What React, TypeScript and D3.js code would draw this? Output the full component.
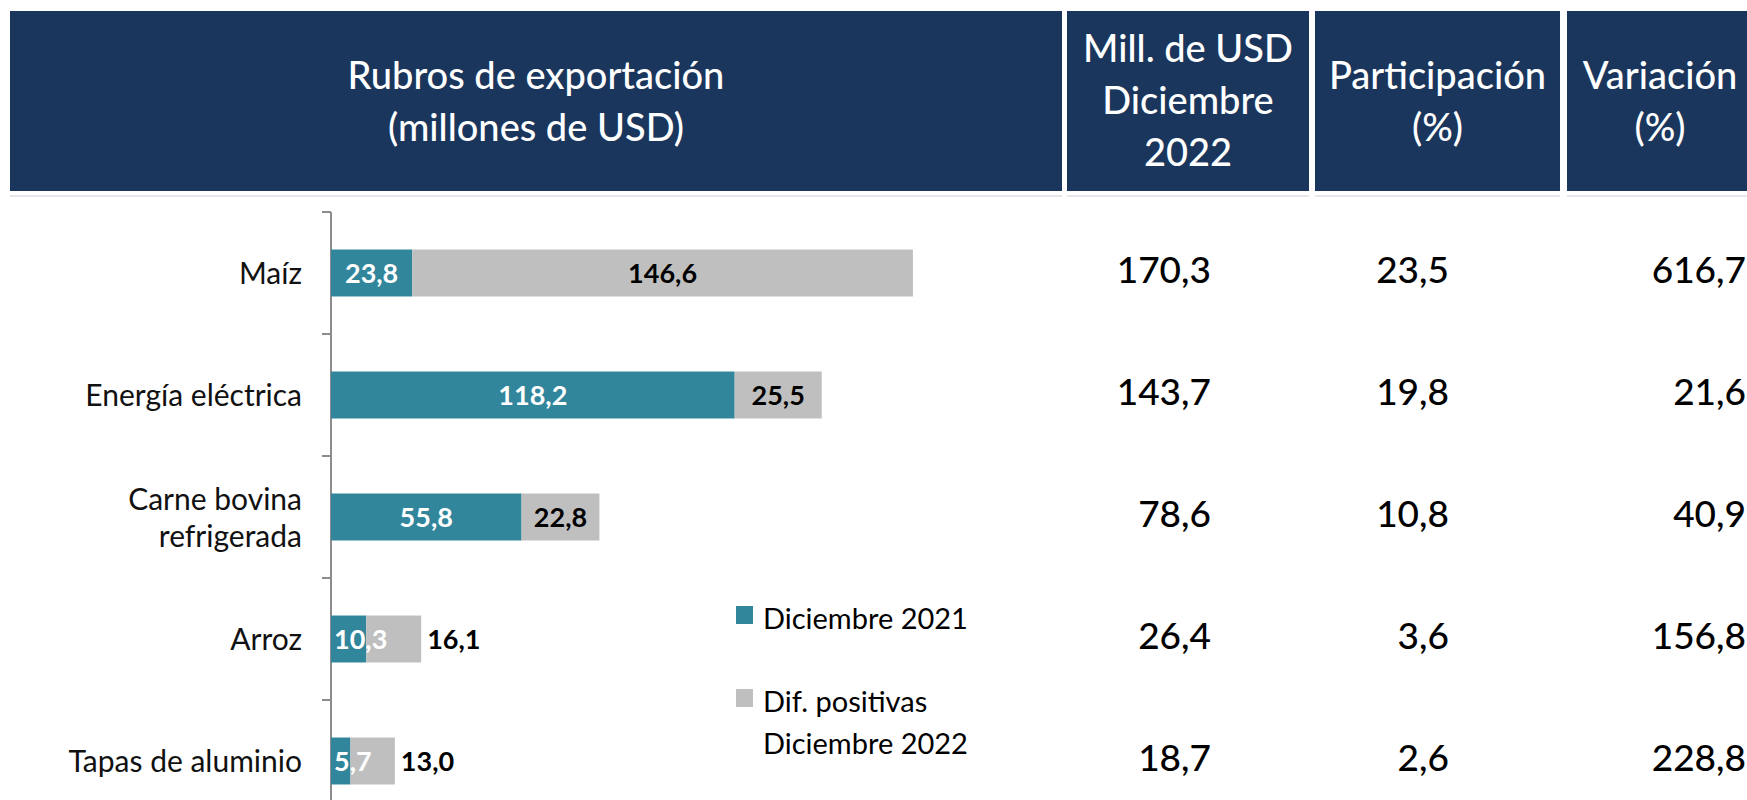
import React, { useEffect, useRef } from 'react';
import * as d3 from 'd3';

// rubros de exportación, diciembre 2022 vs diciembre 2021
const categories = ['Maíz', 'Energía eléctrica', 'Carne bovina refrigerada', 'Arroz', 'Tapas de aluminio'];
const categoryLines = [['Maíz'], ['Energía eléctrica'], ['Carne bovina', 'refrigerada'], ['Arroz'], ['Tapas de aluminio']];
const dic2021 = [23.8, 118.2, 55.8, 10.3, 5.7];
const difPositivas = [146.6, 25.5, 22.8, 16.1, 13.0];
const millUsd2022 = [170.3, 143.7, 78.6, 26.4, 18.7];
const participacion = [23.5, 19.8, 10.8, 3.6, 2.6];
const variacion = [616.7, 21.6, 40.9, 156.8, 228.8];

const headers = [
    { lines: ['Rubros de exportación', '(millones de USD)'], x0: 10, x1: 1062 },
    { lines: ['Mill. de USD', 'Diciembre', '2022'], x0: 1067, x1: 1309 },
    { lines: ['Participación', '(%)'], x0: 1315, x1: 1560 },
    { lines: ['Variación', '(%)'], x0: 1567, x1: 1752, cx: 1660 },
];

const legendItems = [
    { lines: ['Diciembre 2021'], color: '#31869b' },
    { lines: ['Dif. positivas', 'Diciembre 2022'], color: '#bfbfbf' },
];

const NAVY = '#1a365d';
const TEAL = '#31869b';
const GRAY = '#bfbfbf';
const FONT = 'Lato, "Open Sans", sans-serif';

const fmt = (v: number) => d3.format('.1f')(v).replace('.', ',');

const ExportChart = ({ width, height }: { width: number; height: number }) => {
    const ref = useRef<SVGSVGElement | null>(null);

    useEffect(() => {
        const svg = d3.select(ref.current).attr('width', width).attr('height', height);
        svg.selectAll('*').remove();

        // header band
        const head = svg.append('g');
        headers.forEach((h) => {
            head.append('rect')
                .attr('x', h.x0).attr('y', 11)
                .attr('width', h.x1 - h.x0).attr('height', 180)
                .attr('fill', NAVY);
            head.append('rect')
                .attr('x', h.x0).attr('y', 195)
                .attr('width', h.x1 - h.x0).attr('height', 2)
                .attr('fill', '#e6e6ec');
            const cx = h.cx ?? (h.x0 + h.x1) / 2;
            const base = h.lines.length === 3 ? 62 : 89;
            h.lines.forEach((t, i) => {
                head.append('text')
                    .attr('x', cx).attr('y', base + i * 52)
                    .attr('text-anchor', 'middle')
                    .attr('fill', '#fff')
                    .style('font-family', FONT)
                    .style('font-size', '38px')
                    .style('font-weight', 500)
                    .text(t);
            });
        });

        // scales
        const y = d3.scaleBand<string>()
            .domain(categories)
            .range([212, 822])
            .paddingInner(0.615)
            .paddingOuter(0.3075);

        const x = d3.scaleLinear()
            .domain([0, 200])
            .range([331, 331 + 683]);

        // y axis with ticks between categories
        const axis = svg.append('g');
        axis.append('line')
            .attr('x1', x(0)).attr('x2', x(0))
            .attr('y1', 212).attr('y2', 822)
            .attr('stroke', '#8c8c8c').attr('stroke-width', 2);
        const step = y.step();
        d3.range(categories.length + 1).forEach((i) => {
            const ty = 212 + i * step;
            axis.append('line')
                .attr('x1', x(0) - 9).attr('x2', x(0))
                .attr('y1', ty).attr('y2', ty)
                .attr('stroke', '#8c8c8c').attr('stroke-width', 2);
        });

        // category labels
        categories.forEach((c, i) => {
            const cy = (y(c) as number) + y.bandwidth() / 2;
            const lines = categoryLines[i];
            lines.forEach((t, j) => {
                const off = (j - (lines.length - 1) / 2) * 37;
                svg.append('text')
                    .attr('x', 302)
                    .attr('y', cy + off + 11)
                    .attr('text-anchor', 'end')
                    .attr('fill', '#111')
                    .style('font-family', FONT)
                    .style('font-size', '30px')
                    .text(t);
            });
        });

        // stacked bars
        const rows = categories.map((c, i) => ({
            cat: c,
            a: dic2021[i],
            b: difPositivas[i],
        }));

        const bars = svg.append('g');
        rows.forEach((r) => {
            const by = y(r.cat) as number;
            const bh = y.bandwidth();
            const cy = by + bh / 2;
            const segs = [
                { x0: x(0), x1: x(r.a), v: r.a, fill: TEAL, color: '#fff' },
                { x0: x(r.a), x1: x(r.a + r.b), v: r.b, fill: GRAY, color: '#000' },
            ];
            segs.forEach((s) => {
                bars.append('rect')
                    .attr('x', s.x0).attr('y', by)
                    .attr('width', s.x1 - s.x0).attr('height', bh)
                    .attr('fill', s.fill);
            });
            segs.forEach((s, k) => {
                const w = s.x1 - s.x0;
                const t = bars.append('text')
                    .attr('y', cy + 10)
                    .style('font-family', FONT)
                    .style('font-size', '27px')
                    .style('font-weight', 'bold')
                    .text(fmt(s.v));
                if (k === 0 && w < 50) {
                    t.attr('x', s.x0 + 3).attr('text-anchor', 'start').attr('fill', s.color);
                } else if (k === 1 && w < 60) {
                    t.attr('x', s.x1 + 6).attr('text-anchor', 'start').attr('fill', '#000');
                } else {
                    t.attr('x', (s.x0 + s.x1) / 2).attr('text-anchor', 'middle').attr('fill', s.color);
                }
            });
        });

        // table columns
        const cols = [
            { vals: millUsd2022, x: 1211 },
            { vals: participacion, x: 1449 },
            { vals: variacion, x: 1746 },
        ];
        cols.forEach((col) => {
            col.vals.forEach((v, i) => {
                const cy = (y(categories[i]) as number) + y.bandwidth() / 2;
                svg.append('text')
                    .attr('x', col.x)
                    .attr('y', cy + 10)
                    .attr('text-anchor', 'end')
                    .attr('fill', '#000')
                    .style('font-family', FONT)
                    .style('font-size', '37px')
                    .style('font-weight', 500)
                    .text(fmt(v));
            });
        });

        // legend
        const legend = svg.append('g');
        legendItems.forEach((item, i) => {
            const top = i === 0 ? 606 : 689;
            legend.append('rect')
                .attr('x', 736).attr('y', top)
                .attr('width', 17).attr('height', 18)
                .attr('fill', item.color);
            item.lines.forEach((t, j) => {
                legend.append('text')
                    .attr('x', 763)
                    .attr('y', top + 23 + j * 42)
                    .attr('fill', '#000')
                    .style('font-family', FONT)
                    .style('font-size', '29px')
                    .text(t);
            });
        });
    }, [width, height]);

    return <svg ref={ref} style={{ position: 'absolute', left: 0, top: 0, display: 'block' }}></svg>;
};

export default function App() {
    return <ExportChart width={1747} height={800} />;
}
